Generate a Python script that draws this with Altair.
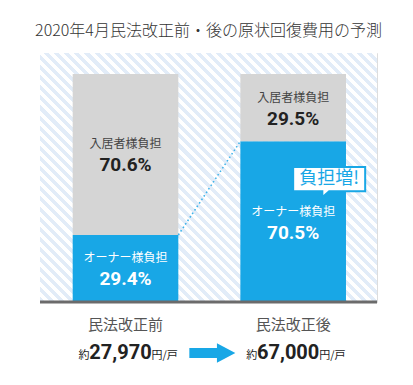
import altair as alt
import pandas as pd

# ---- data ----
categories = ["民法改正前", "民法改正後"]
owner_share = [29.4, 70.5]
tenant_share = [70.6, 29.5]
costs = ["27,970", "67,000"]
title_text = "2020年4月民法改正前・後の原状回復費用の予測"
owner_label = "オーナー様負担"
tenant_label = "入居者様負担"
callout_text = "負担増!"

# ---- style ----
BLUE = "#18A7E6"
GRAY = "#D5D5D5"
STRIPE = "#E2ECF8"
JP = "Noto Sans CJK JP"
NUM = "Roboto"
W, H = 337, 249
HALF = 0.315
xs = alt.Scale(domain=[-0.51, 1.5], nice=False, zero=False)
ys = alt.Scale(domain=[0, 109.2], nice=False, zero=False)

bar_rows, lab_rows = [], []
for i, c in enumerate(categories):
    o, t = owner_share[i], tenant_share[i]
    bar_rows.append(dict(idx=i, xl=i - HALF, xr=i + HALF, lo=0, hi=o, seg="owner"))
    bar_rows.append(dict(idx=i, xl=i - HALF, xr=i + HALF, lo=o, hi=o + t, seg="tenant"))
    lab_rows.append(dict(idx=i, mid=o / 2, name=owner_label, pct=f"{o}%", nc="#FFFFFF", pc="#FFFFFF"))
    lab_rows.append(dict(idx=i, mid=o + t / 2, name=tenant_label, pct=f"{t}%", nc="#444444", pc="#222222"))
bars_df = pd.DataFrame(bar_rows)
lab_df = pd.DataFrame(lab_rows)
cat_df = pd.DataFrame(dict(idx=list(range(len(categories))), cat=categories, cost=costs, zero=0))
dot_df = pd.DataFrame(dict(x=[0 + HALF, 1 - HALF], y=[owner_share[0], owner_share[1]]))
call_df = pd.DataFrame(dict(x=[1], y=[owner_share[1]], t=[callout_text]))
arrow_df = pd.DataFrame(dict(x=[0.5], y=[0]))
one_df = pd.DataFrame(dict(zero=[0]))

# striped background via a hard-stop linear gradient (45 degree stripes)
k = (W + H) / (W * W + H * H)
N = 58
stops = []
for j in range(N):
    a, m, b = j / N, (j + 0.5) / N, (j + 1) / N
    stops += [dict(offset=a, color=STRIPE), dict(offset=m, color=STRIPE),
              dict(offset=m, color="#FFFFFF"), dict(offset=b, color="#FFFFFF")]
grad = dict(gradient="linear", x1=0, y1=1, x2=k * W, y2=1 - k * H, stops=stops)

bg = alt.Chart(one_df).mark_rect(fill=grad, strokeWidth=0).encode(
    x=alt.value(0), x2=alt.value("width"), y=alt.value(0), y2=alt.value("height"))

bars = alt.Chart(bars_df).mark_rect().encode(
    x=alt.X("xl:Q", scale=xs, axis=None), x2="xr:Q",
    y=alt.Y("lo:Q", scale=ys, axis=None), y2="hi:Q",
    color=alt.Color("seg:N", scale=alt.Scale(domain=["owner", "tenant"], range=[BLUE, GRAY]), legend=None))

base_rule = alt.Chart(one_df).mark_rule(color="#6B6B6B", strokeWidth=3).encode(
    x=alt.value(0), x2=alt.value("width"), y=alt.Y("zero:Q", scale=ys, axis=None))

dots = alt.Chart(dot_df).mark_line(color="#3FB3EA", strokeWidth=1.6, strokeDash=[1.6, 2.6]).encode(
    x=alt.X("x:Q", scale=xs, axis=None), y=alt.Y("y:Q", scale=ys, axis=None))

names = alt.Chart(lab_df).mark_text(font=JP, fontSize=12, dy=-10).encode(
    x=alt.X("idx:Q", scale=xs, axis=None), y=alt.Y("mid:Q", scale=ys, axis=None),
    text="name:N", color=alt.Color("nc:N", scale=None))
pcts = alt.Chart(lab_df).mark_text(font=NUM, fontSize=19, fontWeight="bold", dy=11).encode(
    x=alt.X("idx:Q", scale=xs, axis=None), y=alt.Y("mid:Q", scale=ys, axis=None),
    text="pct:N", color=alt.Color("pc:N", scale=None))

bubble_path = "M -1 -0.42 L 1 -0.42 L 1 0.25 L 0 0.25 L -0.19 0.42 L -0.19 0.25 L -1 0.25 Z"
bubble = alt.Chart(call_df).mark_point(shape=bubble_path, size=5184, filled=True, fill="#FFFFFF",
                                       stroke=BLUE, strokeWidth=2, opacity=1, xOffset=36, yOffset=41).encode(
    x=alt.X("x:Q", scale=xs, axis=None), y=alt.Y("y:Q", scale=ys, axis=None))
bubble_txt = alt.Chart(call_df).mark_text(font=JP, fontSize=18, color=BLUE, dx=36, dy=38).encode(
    x=alt.X("x:Q", scale=xs, axis=None), y=alt.Y("y:Q", scale=ys, axis=None), text="t:N")

cat_txt = alt.Chart(cat_df).mark_text(font=JP, fontSize=15, color="#555555", dy=23).encode(
    x=alt.X("idx:Q", scale=xs, axis=None), y=alt.Y("zero:Q", scale=ys, axis=None), text="cat:N")
cost_num = alt.Chart(cat_df).mark_text(font=NUM, fontSize=20, fontWeight="bold", color="#222222",
                                       dx=-5, dy=57, baseline="alphabetic").encode(
    x=alt.X("idx:Q", scale=xs, axis=None), y=alt.Y("zero:Q", scale=ys, axis=None), text="cost:N")
cost_pre = alt.Chart(cat_df).mark_text(font=JP, fontSize=11, color="#222222", align="right",
                                       dx=-36, dy=57, baseline="alphabetic").encode(
    x=alt.X("idx:Q", scale=xs, axis=None), y=alt.Y("zero:Q", scale=ys, axis=None), text=alt.value("約"))
cost_suf = alt.Chart(cat_df).mark_text(font=JP, fontSize=11, color="#222222", align="left",
                                       dx=26, dy=57, baseline="alphabetic").encode(
    x=alt.X("idx:Q", scale=xs, axis=None), y=alt.Y("zero:Q", scale=ys, axis=None), text=alt.value("円/戸"))

arrow_path = "M -1 -0.22 L 0.2 -0.22 L 0.2 -0.42 L 1 0 L 0.2 0.42 L 0.2 0.22 L -1 0.22 Z"
arrow = alt.Chart(arrow_df).mark_point(shape=arrow_path, size=2116, filled=True, fill=BLUE,
                                       strokeWidth=0, opacity=1, xOffset=3, yOffset=51).encode(
    x=alt.X("x:Q", scale=xs, axis=None), y=alt.Y("y:Q", scale=ys, axis=None))

chart = alt.layer(bg, bars, base_rule, dots, names, pcts, bubble, bubble_txt,
                  cat_txt, cost_num, cost_pre, cost_suf, arrow).properties(
    width=W, height=H,
    title=alt.TitleParams(title_text, font=JP, fontSize=16, fontWeight=300, color="#333333",
                          anchor="middle", offset=14),
    padding={"left": 32, "top": 45, "right": 28, "bottom": 75},
    autosize="none",
).configure_view(stroke=None).configure(background="#FFFFFF")

chart.save("out.html", embed_options={"renderer": "svg", "actions": False})
